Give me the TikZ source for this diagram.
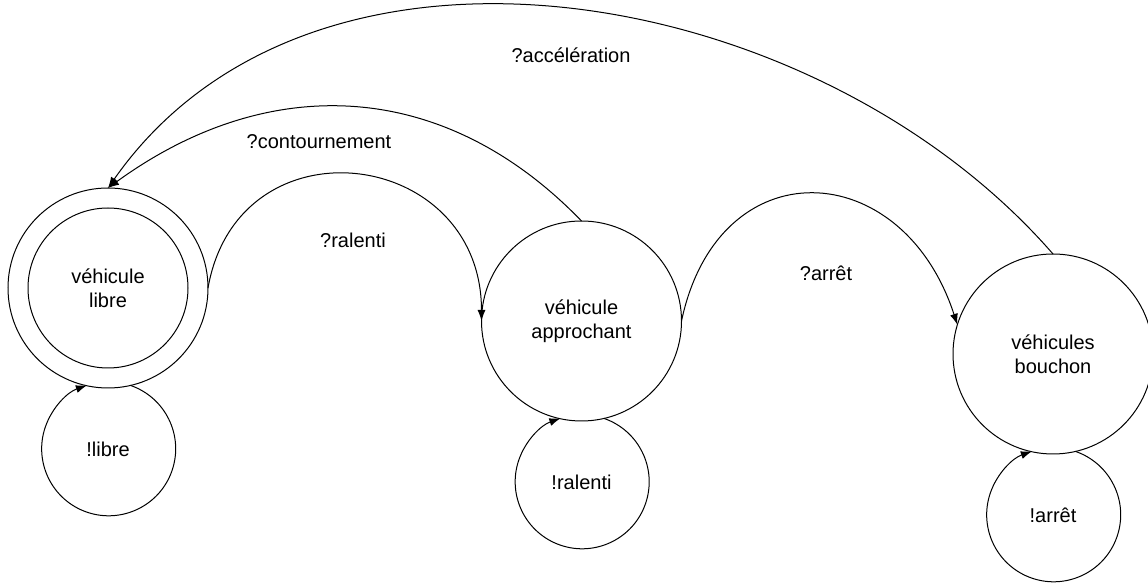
\documentclass[tikz,border=0pt]{standalone}
\usepackage{fontspec}
\setmainfont{Liberation Sans}
\usepackage{tikz}
\usetikzlibrary{arrows.meta}

\begin{document}
\begin{tikzpicture}[x=1pt, y=1pt, line width=1pt,
    font=\fontsize{20}{24}\selectfont,
    etat/.style={draw, circle, minimum size=200pt, inner sep=0pt, outer sep=0pt, align=center},
    fleche/.style={-{Latex[length=11pt, width=8pt]}}]
  \useasboundingbox (0,0) rectangle (1148,586);
  \clip (0,0) rectangle (1148,586);

  \node (libre) [etat] at (108,298) {};
  \node (librein) [etat, minimum size=160pt] at (libre) {véhicule\\libre};
  \node (approchant) [etat] at (581.5,265) {véhicule\\approchant};
  \node (bouchon) [etat] at (1053,232) {véhicules\\bouchon};

  \node (bouclelibre) at ([yshift=-161pt]libre.center) {!libre};
  \node (boucleralenti) at ([yshift=-161pt]approchant.center) {!ralenti};
  \node (bouclearret) at ([yshift=-161pt]bouchon.center) {!arrêt};

  \node (lblralenti) at (353,346) {?ralenti};
  \node (lblarret) at (826,313) {?arrêt};
  \node (lblcontour) at (319,444) {?contournement};
  \node (lblaccel) at (571,531) {?accélération};

  \draw[fleche] (libre.east) to[out=80, in=90, looseness=1.62] (approchant.west);
  \draw[fleche] (approchant.east) to[out=78, in=108, looseness=1.65] (bouchon.163);
  \draw[fleche] (approchant.north) to[out=134, in=36, looseness=1.07] (libre.north);
  \draw[fleche] (bouchon.north) to[out=131, in=55, looseness=0.97] (libre.north);

  % boucles
  \draw[fleche] (libre.-77.4) arc[start angle=71, end angle=-251, radius=67pt];
  \draw[fleche] (approchant.-77.4) arc[start angle=71, end angle=-251, radius=67pt];
  \draw[fleche] (bouchon.-77.4) arc[start angle=71, end angle=-251, radius=67pt];
\end{tikzpicture}
\end{document}
